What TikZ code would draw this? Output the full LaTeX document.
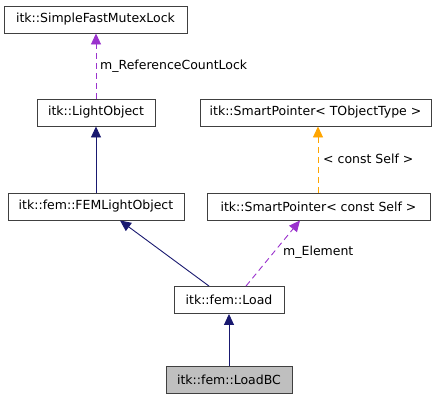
\documentclass[tikz,border=0pt]{standalone}
\usepackage{fontspec}
\setmainfont{DejaVu Sans}
\usetikzlibrary{arrows.meta}
\definecolor{navy}{HTML}{191970}
\definecolor{purp}{HTML}{9A32CD}
\definecolor{orng}{HTML}{FFA500}
\definecolor{boxline}{HTML}{404040}
\tikzset{
  cls/.style={draw=boxline, line width=0.9pt, fill=white, inner sep=0pt, minimum height=27pt, font=\fontsize{12.5}{14}\selectfont},
  inherit/.style={navy, line width=0.9pt, -{Triangle[length=11pt,width=10pt]}},
  usage/.style={purp, line width=0.9pt, dash pattern=on 6pt off 4pt, -{Triangle[length=11pt,width=10pt]}},
  templ/.style={orng, line width=0.9pt, dash pattern=on 6pt off 4pt, -{Triangle[length=11pt,width=10pt]}},
  lbl/.style={anchor=west, inner sep=0pt, font=\fontsize{12.5}{14}\selectfont},
}
\begin{document}
\begin{tikzpicture}[x=1pt,y=-1pt]
\useasboundingbox (0,0) rectangle (441,400);
\node[cls, minimum width=183pt] (sfml) at (95.5,19.5) {itk::SimpleFastMutexLock};
\node[cls, minimum width=118pt] (lo) at (96,112.5) {itk::LightObject};
\node[cls, minimum width=231pt] (spt) at (315.5,112.5) {itk::SmartPointer< TObjectType >};
\node[cls, minimum width=176pt] (fem) at (96,206.5) {itk::fem::FEMLightObject};
\node[cls, minimum width=223pt] (spc) at (318.5,206.5) {itk::SmartPointer< const Self >};
\node[cls, minimum width=110pt] (load) at (229,300) {itk::fem::Load};
\node[cls, minimum width=126pt, fill=black!25] (lbc) at (229,380) {itk::fem::LoadBC};

\draw[usage] (lo.north) -- (lo.north |- sfml.south);
\node[lbl] at (100,66) {m\_ReferenceCountLock};
\draw[inherit] (fem.north) -- (lo.south);
\draw[templ] ([xshift=-0.5pt]spc.north) -- ([xshift=2.5pt]spt.south);
\node[lbl] at (323,159) {< const Self >};
\draw[inherit] ([xshift=-20pt]load.north) -- ([xshift=24pt]fem.south);
\draw[usage] ([xshift=17pt]load.north) -- ([xshift=-18.5pt]spc.south);
\node[lbl] at (283,252) {m\_Element};
\draw[inherit] (lbc.north) -- (load.south);
\end{tikzpicture}
\end{document}
